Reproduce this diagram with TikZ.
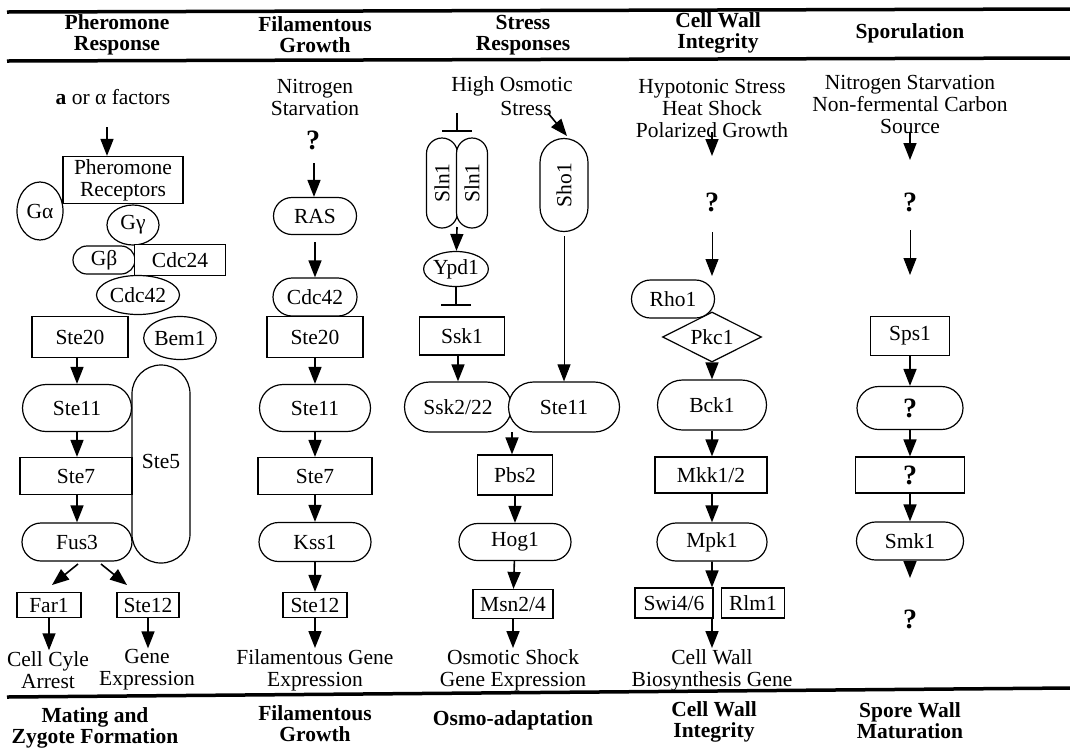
\documentclass[tikz,border=0pt]{standalone}
\usepackage{fontspec}
\setmainfont{Liberation Serif}
\usetikzlibrary{arrows.meta,shapes.geometric,shapes.misc}
\begin{document}
\begin{tikzpicture}[x=1pt,y=-1pt,
  every node/.style={font=\fontsize{21.5}{22}\selectfont},
  box/.style={draw, line width=1.2pt, rectangle, fill=white, inner sep=0pt},
  pill/.style={draw, line width=1.2pt, rounded rectangle, fill=white, inner sep=0pt},
  oval/.style={draw, line width=1.2pt, ellipse, fill=white, inner sep=0pt},
  arr/.style={-{Triangle[length=17pt,width=13pt]}, line width=1.6pt},
  tarr/.style={-{Triangle[length=17pt,width=13pt]}, line width=1pt},
  inh/.style={-{Bar[width=30pt,line width=2.5pt]}, line width=2pt},
  lbl/.style={align=center, inner sep=1pt},
  qm/.style={inner sep=1pt, font=\bfseries\fontsize{28}{28}\selectfont},
  qin/.style={font=\bfseries\fontsize{28}{28}\selectfont},
  hdr/.style={align=center, inner sep=0pt, font=\bfseries\fontsize{21.5}{21}\selectfont},
  rulel/.style={line width=3.5pt}]
\useasboundingbox (0,0) rectangle (1070,748);

% rules
\coordinate (r1a) at (7,12);  \coordinate (r1b) at (1070,9);
\coordinate (r2a) at (7,61);  \coordinate (r2b) at (1070,58);
\coordinate (r3a) at (7,697); \coordinate (r3b) at (1070,688);
\draw[rulel] (r1a) -- (r1b);
\draw[rulel] (r2a) -- (r2b);
\draw[rulel] (r3a) -- (r3b);

% headers
\node[hdr] (h1) at (117,35) {Pheromone\\Response};
\node[hdr] (h2) at (315,35) {Filamentous\\Growth};
\node[hdr] (h3) at (523,35) {Stress\\Responses};
\node[hdr] (h4) at (718,33) {Cell Wall\\Integrity};
\node[hdr] (h5) at (910,33) {Sporulation};

% footers
\node[hdr] (f1) at (95,728) {Mating and\\Zygote Formation};
\node[hdr] (f2) at (315,724) {Filamentous\\Growth};
\node[hdr] (f3) at (513,720) {Osmo-adaptation};
\node[hdr] (f4) at (714,722) {Cell Wall\\Integrity};
\node[hdr] (f5) at (910,721) {Spore Wall\\Maturation};

% ===== Pheromone response =====
\node[lbl] (afac) at (113,97) {\textbf{a} or α factors};
\node[box, minimum width=120pt, minimum height=47pt, align=center] (prec) at (123,180) {Pheromone\\Receptors};
\node[oval, minimum width=46pt, minimum height=58pt] (galpha) at (40,211) {Gα};
\node[oval, minimum width=52pt, minimum height=40pt] (ggamma) at (133,225) {Gγ};
\node[pill, minimum width=62pt, minimum height=28pt] (gbeta) at (104,260) {Gβ};
\node[box, minimum width=91pt, minimum height=31pt] (cdc24) at (180,260) {Cdc24};
\node[oval, minimum width=83pt, minimum height=39pt] (cdc42p) at (138,295) {Cdc42};
\node[box, minimum width=96pt, minimum height=41pt] (ste20p) at (80,337) {Ste20};
\node[oval, minimum width=63pt, minimum height=43pt] (bem1) at (180,338) {Bem1};
\node[draw, line width=1.2pt, rectangle, rounded corners=28.9pt, fill=white, inner sep=0pt,
      minimum width=58pt, minimum height=198pt] (ste5) at (161,464) {\raisebox{6pt}{Ste5}};
\node[pill, minimum width=109pt, minimum height=47pt] (ste11p) at (77,408) {Ste11};
\node[box, minimum width=112pt, minimum height=37pt] (ste7p) at (76,476) {Ste7};
\node[pill, minimum width=110pt, minimum height=38pt] (fus3) at (77,542) {Fus3};
\node[box, minimum width=64pt, minimum height=25pt] (far1) at (49,605) {Far1};
\node[box, minimum width=62pt, minimum height=25pt] (ste12p) at (148,605) {Ste12};
\node[lbl] (cca) at (48,670) {Cell Cyle\\Arrest};
\node[lbl] (gex) at (147,670) {Gene\\Expression};

\coordinate (pa) at (107,127);
\draw[arr] (pa) -- (pa |- prec.north);
\draw[arr] (ste20p.south -| ste11p) -- (ste11p);
\draw[arr] (ste11p) -- (ste11p |- ste7p.north);
\draw[arr] (ste11p |- ste7p.south) -- (fus3);
\coordinate (fl1) at (78,564); \coordinate (fl2) at (52,585);
\coordinate (fr1) at (101,564); \coordinate (fr2) at (127,585);
\draw[arr] (fl1) -- (fl2);
\draw[arr] (fr1) -- (fr2);
\draw[arr] (far1) -- (far1 |- cca.north);
\draw[arr] (ste12p) -- (ste12p |- gex.north);

% ===== Filamentous growth =====
\node[lbl] (nsf) at (315,97) {Nitrogen\\Starvation};
\node[qm] (qf) at (313,140) {?};
\node[pill, minimum width=83pt, minimum height=37pt] (ras) at (315,216) {RAS};
\node[pill, minimum width=84pt, minimum height=38pt] (cdc42f) at (315,297) {Cdc42};
\node[box, minimum width=96pt, minimum height=41pt] (ste20f) at (315,337) {Ste20};
\node[pill, minimum width=111pt, minimum height=47pt] (ste11f) at (315,408) {Ste11};
\node[box, minimum width=114pt, minimum height=37pt] (ste7f) at (315,476) {Ste7};
\node[pill, minimum width=112pt, minimum height=39pt] (kss1) at (315,542) {Kss1};
\node[box, minimum width=64pt, minimum height=25pt] (ste12f) at (315,605) {Ste12};
\node[lbl] (fge) at (315,670) {Filamentous Gene\\Expression};

\coordinate (fa) at (314,163);
\draw[arr] (fa) -- (fa |- ras.north);
\draw[arr, shorten <=7pt] (ras) -- (cdc42f);
\draw[arr] (ste20f) -- (ste11f);
\draw[arr] (ste11f) -- (ste7f);
\draw[arr] (ste7f) -- (kss1);
\draw[arr] (kss1) -- (ste12f);
\draw[arr] (ste12f) -- (fge);

% ===== Stress responses =====
\node[lbl] (hos) at (512,86) {High Osmotic};
\node[lbl] (hos2) at (526,108) {Stress};
\node[pill, rotate=90, minimum width=90pt, minimum height=31pt] (slnl) at (442,183) {Sln1};
\node[pill, rotate=90, minimum width=90pt, minimum height=31pt] (slnr) at (472,183) {Sln1};
\node[pill, rotate=90, minimum width=93pt, minimum height=48pt] (sho1) at (564,185) {Sho1};
\node[oval, minimum width=61pt, minimum height=35pt] (ypd1) at (456,269) {Ypd1};
\node[box, minimum width=85pt, minimum height=38pt] (ssk1) at (462,336) {Ssk1};
\node[pill, minimum width=107pt, minimum height=50pt] (ssk2) at (458,407) {Ssk2/22};
\node[pill, minimum width=111pt, minimum height=50pt] (ste11s) at (564,407) {Ste11};
\node[box, minimum width=75pt, minimum height=40pt] (pbs2) at (515,475) {Pbs2};
\node[pill, minimum width=112pt, minimum height=37pt] (hog1) at (515,542) {Hog1};
\node[box, minimum width=80pt, minimum height=29pt] (msn) at (513,604) {Msn2/4};
\node[lbl] (osg) at (513,670) {Osmotic Shock\\Gene Expression};

\coordinate (slntop) at (457,113);
\draw[inh] (slntop) -- ++(0,19);
\coordinate (slnj) at (457,227);
\draw[arr] (slnj) -- (ypd1);
\draw[inh, shorten >=10pt] (ypd1) -- (ypd1 |- ssk1.north);
\coordinate (sha) at (548,113); \coordinate (shb) at (567,136);
\draw[arr] (sha) -- (shb);
\draw[tarr, shorten <=4pt] (sho1) -- (ste11s);
\draw[arr] (ssk1.south -| ssk2) -- (ssk2);
\coordinate (sjun) at (512,432);
\draw[arr] (sjun) -- (sjun |- pbs2.north);
\draw[arr] (pbs2) -- (hog1);
\draw[arr] (hog1) -- (msn);
\draw[arr] (msn) -- (osg);

% ===== Cell wall integrity =====
\node[lbl] (cwin) at (712,108) {Hypotonic Stress\\Heat Shock\\Polarized Growth};
\node[qm] (cwq) at (712,202) {?};
\node[draw, diamond, aspect=2, line width=1.2pt, fill=white, inner sep=0pt,
      minimum width=99pt, minimum height=50pt] (pkc1) at (712,337) {Pkc1};
\node[pill, minimum width=83pt, minimum height=38pt] (rho1) at (673,299) {Rho1};
\node[pill, minimum width=109pt, minimum height=50pt] (bck1) at (712,405) {Bck1};
\node[box, minimum width=112pt, minimum height=36pt] (mkk) at (711,475) {Mkk1/2};
\node[pill, minimum width=110pt, minimum height=38pt] (mpk1) at (712,542) {Mpk1};
\node[box, minimum width=78pt, minimum height=30pt] (swi) at (674,603) {Swi4/6};
\node[box, minimum width=63pt, minimum height=30pt] (rlm1) at (753,603) {Rlm1};
\node[lbl] (cwg) at (712,670) {Cell Wall\\Biosynthesis Gene};

\coordinate (cwa) at (712,132);
\draw[arr] (cwa) -- ++(0,24);
\coordinate (cwb) at (712,232);
\draw[tarr] (cwb) -- ++(0,44);
\draw[arr] (pkc1) -- (pkc1 |- bck1.north);
\draw[arr] (pkc1 |- bck1.south) -- (pkc1 |- mkk.north);
\draw[arr] (pkc1 |- mkk.south) -- (mpk1);
\draw[arr] (mpk1) -- (mpk1 |- swi.north);
\draw[arr] (mpk1 |- swi.south) -- (cwg);

% ===== Sporulation =====
\node[lbl] (spin) at (910,104) {Nitrogen Starvation\\Non-fermental Carbon\\Source};
\node[qm] (spq1) at (910,202) {?};
\node[box, minimum width=79pt, minimum height=39pt] (sps1) at (910,336) {Sps1};
\node[pill, minimum width=106pt, minimum height=43pt] (spq2) at (910,408) {\textbf{\fontsize{28}{28}\selectfont ?}};
\node[box, minimum width=109pt, minimum height=36pt] (spq3) at (910,475) {\textbf{\fontsize{28}{28}\selectfont ?}};
\node[pill, minimum width=107pt, minimum height=38pt] (smk1) at (910,541) {Smk1};
\node[qm] (spq4) at (910,619) {?};

\coordinate (spa) at (910,132);
\draw[arr] (spa) -- ++(0,28);
\coordinate (spb) at (910,230);
\draw[tarr] (spb) -- ++(0,45);
\draw[arr] (sps1) -- (spq2);
\draw[arr] (spq2) -- (spq3);
\draw[arr] (spq3) -- (smk1);
\draw[arr] (smk1) -- ++(0,37);
\end{tikzpicture}
\end{document}
